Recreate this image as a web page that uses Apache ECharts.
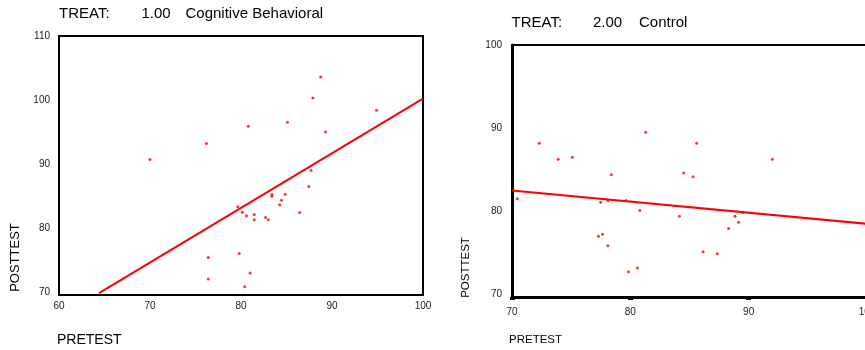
<!DOCTYPE html>
<html>
<head>
<meta charset="utf-8">
<script src="https://cdn.jsdelivr.net/npm/echarts@6/dist/echarts.min.js"></script>
<style>html,body{margin:0;padding:0;background:#fff}#c{width:865px;height:350px}</style>
</head>
<body>
<div id="c"></div>
<script>
// ---- Data ----
const leftTitle = ['TREAT:', '1.00', 'Cognitive Behavioral'];
const rightTitle = ['TREAT:', '2.00', 'Control'];
const xName = 'PRETEST';
const yName = 'POSTTEST';

const leftPre  = [70.0, 76.2, 80.8, 85.1, 88.75, 87.9, 89.3, 94.9, 87.7, 87.45, 83.4, 83.4, 84.85, 84.45, 84.25, 86.45, 79.65, 80.15, 80.6, 81.45, 81.45, 82.7, 83.0, 76.4, 79.8, 76.4, 81.0, 80.4];
const leftPost = [90.7, 93.2, 95.9, 96.5, 103.6, 100.3, 95.0, 98.4, 88.95, 86.45, 85.2, 84.95, 85.25, 84.3, 83.6, 82.4, 83.3, 82.45, 81.9, 82.1, 81.25, 81.6, 81.25, 75.35, 76.0, 72.0, 72.95, 70.8];

const rightPre  = [70.45, 72.3, 73.9, 75.1, 78.4, 81.3, 85.6, 84.5, 85.3, 92.0, 77.5, 78.1, 79.65, 80.8, 84.15, 88.85, 89.5, 89.15, 88.3, 77.3, 77.65, 78.1, 86.15, 87.35, 79.85, 80.6];
const rightPost = [81.5, 88.2, 86.25, 86.5, 84.4, 89.5, 88.2, 84.6, 84.15, 86.25, 81.1, 81.3, 81.3, 80.1, 79.4, 79.4, 79.85, 78.7, 77.95, 77.0, 77.25, 75.85, 75.15, 74.9, 72.75, 73.2];

const leftFitX = [64.4, 100];
const leftFitY = [69.8, 100.2];
const rightFitX = [70, 100];
const rightFitY = [82.5, 78.5];

const leftXTicks = [60, 70, 80, 90, 100];
const leftYTicks = [70, 80, 90, 100, 110];
const rightXTicks = [70, 80, 90, 100];
const rightYTicks = [70, 80, 90, 100];

// ---- Build ----
const zip = (a, b) => a.map((v, i) => [v, b[i]]);
const FONT = 'Liberation Sans, Arial, sans-serif';
const tickLabel = {color: '#222', fontSize: 10, fontFamily: FONT};

const chart = echarts.init(document.getElementById('c'), null, {renderer: 'canvas'});

function txt(x, y, text, size, opts) {
  return Object.assign({
    type: 'text', x: x, y: y,
    style: {text: text, fill: '#000', font: size + 'px ' + FONT, textVerticalAlign: 'middle', textAlign: 'left'}
  }, opts || {});
}

chart.setOption({
  animation: false,
  backgroundColor: '#fff',
  grid: [
    {left: 59, top: 36, right: 442, bottom: 55, show: true, borderColor: '#000', borderWidth: 2, backgroundColor: 'transparent',
     containLabel: false, outerBoundsMode: 'none'},
    {left: 512, top: 45, right: -2, bottom: 53, show: true, borderColor: '#000', borderWidth: 2, backgroundColor: 'transparent',
     containLabel: false, outerBoundsMode: 'none'}
  ],
  xAxis: [
    {gridIndex: 0, type: 'value', min: leftXTicks[0], max: leftXTicks[leftXTicks.length - 1], interval: 10,
     axisLine: {show: true, onZero: false, lineStyle: {color: '#000', width: 2}}, axisTick: {show: false},
     splitLine: {show: false}, axisLabel: Object.assign({margin: 6, showMinLabel: true, showMaxLabel: true}, tickLabel)},
    {gridIndex: 1, type: 'value', min: rightXTicks[0], max: rightXTicks[rightXTicks.length - 1], interval: 10,
     axisLine: {show: true, onZero: false, lineStyle: {color: '#000', width: 3}},
     axisTick: {show: true, length: 3, lineStyle: {color: '#000', width: 5}},
     splitLine: {show: false}, axisLabel: Object.assign({margin: 10, showMinLabel: true, showMaxLabel: true}, tickLabel)}
  ],
  yAxis: [
    {gridIndex: 0, type: 'value', min: 69.5, max: leftYTicks[leftYTicks.length - 1],
     axisLine: {show: true, onZero: false, lineStyle: {color: '#000', width: 2}}, axisTick: {show: false},
     splitLine: {show: false}, axisLabel: Object.assign({margin: 9, customValues: leftYTicks}, tickLabel)},
    {gridIndex: 1, type: 'value', min: 69.7, max: rightYTicks[rightYTicks.length - 1],
     axisLine: {show: true, onZero: false, lineStyle: {color: '#000', width: 3}}, axisTick: {show: false},
     splitLine: {show: false}, axisLabel: Object.assign({margin: 10, customValues: rightYTicks}, tickLabel)}
  ],
  series: [
    {type: 'scatter', xAxisIndex: 0, yAxisIndex: 0, data: zip(leftPre, leftPost), symbol: 'circle', symbolSize: 3,
     itemStyle: {color: '#ff0000'}, z: 3},
    {type: 'line', xAxisIndex: 0, yAxisIndex: 0, data: zip(leftFitX, leftFitY), showSymbol: false, symbol: 'none',
     lineStyle: {color: '#ff0000', width: 2}, clip: true, z: 4},
    {type: 'scatter', xAxisIndex: 1, yAxisIndex: 1, data: zip(rightPre, rightPost), symbol: 'circle', symbolSize: 3,
     itemStyle: {color: '#ff0000'}, z: 3},
    {type: 'line', xAxisIndex: 1, yAxisIndex: 1, data: zip(rightFitX, rightFitY), showSymbol: false, symbol: 'none',
     lineStyle: {color: '#ff0000', width: 2}, clip: true, z: 4}
  ],
  graphic: [
    txt(59, 14, leftTitle[0], 15),
    txt(141.5, 14, leftTitle[1], 15),
    txt(185.5, 14, leftTitle[2], 15),
    txt(511.5, 23, rightTitle[0], 15),
    txt(593, 23, rightTitle[1], 15),
    txt(639, 23, rightTitle[2], 15),
    txt(57, 340, xName, 14),
    txt(509, 340, xName, 11.5),
    {type: 'text', x: 15, y: 257.5, rotation: Math.PI / 2,
     style: {text: yName, fill: '#000', font: '13px ' + FONT, textAlign: 'center', textVerticalAlign: 'middle'}},
    {type: 'text', x: 466, y: 267.5, rotation: Math.PI / 2,
     style: {text: yName, fill: '#000', font: '11.5px ' + FONT, textAlign: 'center', textVerticalAlign: 'middle'}}
  ]
});
</script>
</body>
</html>
